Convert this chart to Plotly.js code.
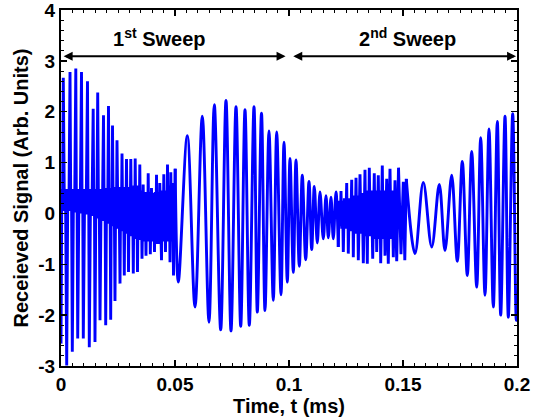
<!DOCTYPE html>
<html>
<head>
<meta charset="utf-8">
<script src="https://cdn.plot.ly/plotly-3.0.1.min.js"></script>
<style>html,body{margin:0;padding:0;background:#fff;}#chart{width:539px;height:419px;}</style>
</head>
<body>
<div id="chart"></div>
<script>
// Extrema of the received signal. Times in microseconds.
// Segment 1: aliased (dense) part of the 1st sweep
const timeDense1Us = [0,0.35,0.66,1.01,1.49,1.97,2.50,2.98,3.47,3.95,4.30,4.61,4.96,5.48,5.97,6.49,6.75,7.02,7.33,7.89,8.42,8.99,9.25,9.52,9.78,10.39,11.01,11.62,11.89,12.15,12.41,12.98,13.55,14.12,14.39,14.65,14.91,15.31,15.70,16.10,16.45,16.76,17.11,17.63,18.11,18.64,18.95,19.30,19.61,20.00,20.44,20.83,21.14,21.49,21.80,22.06,22.33,22.59,22.94,23.33,23.68,23.99,24.26,24.56,25.00,25.44,25.88,26.18,26.45,26.76,27.11,27.41,27.76,28.07,28.42,28.73,29.04,29.30,29.61,29.96,30.26,30.61,30.96,31.36,31.71,32.02,32.28,32.54,32.89,33.20,33.55,33.90,34.21,34.56,34.87,35.22,35.53,36.05,36.45,36.89,37.28,37.59,37.94,38.25,38.55,38.86,39.17,39.69,40.13,40.57,41.01,41.32,41.58,41.89,42.24,42.59,42.98,43.33,44.08,44.43,44.74,45.09,45.35,45.61,45.83,46.14,46.40,46.71,47.06,47.46,47.81,48.16,48.55,48.95,49.34,50.09];
const signalDense1 = [-2.56,0.48,0.05,2.67,0.05,0.48,-2.99,0.48,0.05,2.78,0.05,0.48,-2.72,0.48,0.02,2.85,0.02,0.48,-2.46,0.48,0.0,2.78,0.0,0.48,-2.46,0.48,-0.02,2.60,-0.02,0.48,-2.63,0.48,-0.05,2.06,-0.05,0.48,-2.53,0.48,-0.1,2.38,-0.1,0.48,-2.10,0.48,-0.15,1.93,-0.15,0.48,-2.20,0.5,-0.2,2.11,-0.2,0.5,-2.09,0.5,-0.25,1.73,-0.25,0.5,-1.72,0.52,-0.3,1.44,-0.3,0.52,-1.38,0.52,-0.35,1.18,-0.35,0.52,-1.22,0.52,-0.40,1.07,-0.40,0.52,-1.15,0.52,-0.45,1.07,-0.45,0.52,-1.18,0.55,-0.50,1.08,-0.50,0.55,-1.15,0.50,-0.50,0.96,-0.52,0.45,-0.89,0.57,-0.55,0.42,-0.83,0.42,-0.55,0.79,-0.55,0.42,-0.80,0.50,-0.55,0.40,-0.76,0.42,-0.55,0.76,-0.60,0.42,-0.60,0.60,-0.92,0.45,-0.55,0.77,-0.55,0.45,-0.76,0.45,-0.55,0.96,-0.55,0.55,-0.96,0.81,-0.55,0.60,-1.22,0.88];
// Segment 2: resolved oscillation, end of 1st sweep / start of 2nd sweep
const timeSmooth1Us = [50.09,51.45,55.39,58.77,61.97,64.91,67.24,70.04,72.37,74.56,76.76,78.82,80.70,82.59,84.65,86.10,87.94,89.47,91.23,93.11,94.61,96.49,97.81,99.26,100.44,101.89,103.07,104.52,105.83,107.32,108.77,109.96,111.10,112.41,113.60,115.04,116.23,117.24,118.42,119.43,120.62,121.62];
const signalSmooth1 = [0.88,-1.35,1.53,-1.84,1.91,-2.14,2.14,-2.29,2.22,-2.31,2.10,-2.22,2.04,-2.20,2.10,-1.94,1.97,-1.91,1.62,-1.71,1.60,-1.60,1.40,-1.35,1.08,-1.16,1.05,-1.04,0.75,-0.91,0.63,-0.71,0.53,-0.58,0.42,-0.50,0.35,-0.48,0.32,-0.50,0.42,-0.66];
// Segment 3: aliased (dense) part of the 2nd sweep
const timeDense2Us = [121.62,122.02,122.41,122.81,123.16,123.47,123.82,124.30,124.83,125.31,125.53,125.79,126.01,126.49,127.02,127.50,127.72,127.98,128.20,128.60,128.99,129.39,129.74,130.04,130.40,131.14,131.62,132.10,132.59,133.33,133.69,133.99,134.34,134.65,134.91,135.22,135.70,136.18,136.71,137.41,137.76,138.11,138.46,139.17,139.52,139.87,140.22,140.92,141.32,141.71,142.11,142.85,143.55,144.30,144.78,145.26,145.75,146.49,147.24,148.03,149.12,150.13,150.79,151.45];
const signalDense2 = [-0.66,0.25,-0.25,0.44,-0.30,0.25,-0.76,0.30,-0.30,0.60,-0.30,0.30,-0.79,0.30,-0.35,0.66,-0.35,0.35,-0.86,0.35,-0.40,0.70,-0.40,0.35,-0.92,0.77,-0.40,0.40,-0.98,0.86,-0.45,0.40,-0.99,0.45,-0.45,0.90,-0.45,0.45,-0.89,0.79,-0.50,0.45,-0.76,0.75,-0.50,0.45,-0.98,0.94,-0.50,0.45,-0.83,0.68,-0.99,0.88,-0.50,0.45,-0.86,0.65,-0.94,0.90,-0.80,0.62,-0.92,0.68];
// Segment 4: resolved oscillation, end of 2nd sweep
const timeSmooth2Us = [151.45,155.26,158.90,162.59,165.92,168.42,171.36,173.82,176.01,178.20,180.13,182.33,184.08,185.97,187.72,189.61,191.36,192.85,194.74,196.19,198.12,199.69,200.00];
const signalSmooth2 = [0.68,-0.79,0.61,-0.66,0.57,-0.73,0.75,-0.94,1.02,-1.22,1.22,-1.45,1.49,-1.61,1.66,-1.84,1.81,-2.00,1.91,-2.04,1.96,-2.10,-1.90];

const xTickVals = [0, 0.05, 0.1, 0.15, 0.2];
const xTickText = ['0', '0.05', '0.1', '0.15', '0.2'];
const yTickVals = [-3, -2, -1, 0, 1, 2, 3, 4];
const yTickText = ['-3', '-2', '-1', '0', '1', '2', '3', '4'];
const sweepLabels = ['1<sup>st</sup> Sweep', '2<sup>nd</sup> Sweep'];

const toMs = a => a.map(t => t / 1000);
const blue = '#0000ff';
const mk = (tx, vy, shape) => ({
  x: toMs(tx), y: vy, type: 'scatter', mode: 'lines',
  line: {color: blue, width: 2.9, shape: shape, smoothing: 1},
  showlegend: false, hoverinfo: 'skip'
});
const traces = [
  mk(timeDense1Us, signalDense1, 'linear'),
  mk(timeSmooth1Us, signalSmooth1, 'spline'),
  mk(timeDense2Us, signalDense2, 'linear'),
  mk(timeSmooth2Us, signalSmooth2, 'spline')
];

const fam = 'Liberation Sans, Arial, Helvetica, sans-serif';
const axisCommon = {
  showline: true, linecolor: '#000', linewidth: 2, mirror: 'ticks',
  ticks: 'inside', ticklen: 6, tickwidth: 1.5, tickcolor: '#000',
  showgrid: false, zeroline: false, tickmode: 'array', ticklabeloverflow: 'allow',
  tickfont: {family: fam, size: 19, color: '#000', weight: 'bold'}
};
const layout = {
  width: 539, height: 419,
  margin: {l: 61, r: 22, t: 10, b: 53},
  paper_bgcolor: '#fff', plot_bgcolor: '#fff',
  xaxis: Object.assign({}, axisCommon, {
    range: [0, 0.2], tickvals: xTickVals, ticktext: xTickText,
    minor: {tick0: 0, dtick: 0.005, ticks: 'inside', ticklen: 3, tickwidth: 1, tickcolor: '#000'},
    title: {text: 'Time, t (ms)', font: {family: fam, size: 20, color: '#000', weight: 'bold'}, standoff: 2}
  }),
  yaxis: Object.assign({}, axisCommon, {
    range: [-3, 4], tickvals: yTickVals, ticktext: yTickText,
    minor: {tick0: 0, dtick: 0.2, ticks: 'inside', ticklen: 3, tickwidth: 1, tickcolor: '#000'},
    title: {text: 'Receieved Signal (Arb. Units)', font: {family: fam, size: 20, color: '#000', weight: 'bold'}, standoff: 4}
  }),
  annotations: [
    {x: 0.0434, y: 3.45, xref: 'x', yref: 'y', text: sweepLabels[0], showarrow: false,
     font: {family: fam, size: 20, color: '#000', weight: 'bold'}},
    {x: 0.1518, y: 3.45, xref: 'x', yref: 'y', text: sweepLabels[1], showarrow: false,
     font: {family: fam, size: 20, color: '#000', weight: 'bold'}},
    {x: 0.0985, y: 3.09, ax: 0.0005, ay: 3.09, xref: 'x', yref: 'y', axref: 'x', ayref: 'y',
     text: '', showarrow: true, arrowside: 'end+start', arrowhead: 2, startarrowhead: 2,
     arrowsize: 0.9, startarrowsize: 0.9, arrowwidth: 2, arrowcolor: '#000'},
    {x: 0.1996, y: 3.09, ax: 0.1012, ay: 3.09, xref: 'x', yref: 'y', axref: 'x', ayref: 'y',
     text: '', showarrow: true, arrowside: 'end+start', arrowhead: 2, startarrowhead: 2,
     arrowsize: 0.9, startarrowsize: 0.9, arrowwidth: 2, arrowcolor: '#000'}
  ]
};
Plotly.newPlot('chart', traces, layout, {staticPlot: true, displayModeBar: false});
</script>
</body>
</html>
